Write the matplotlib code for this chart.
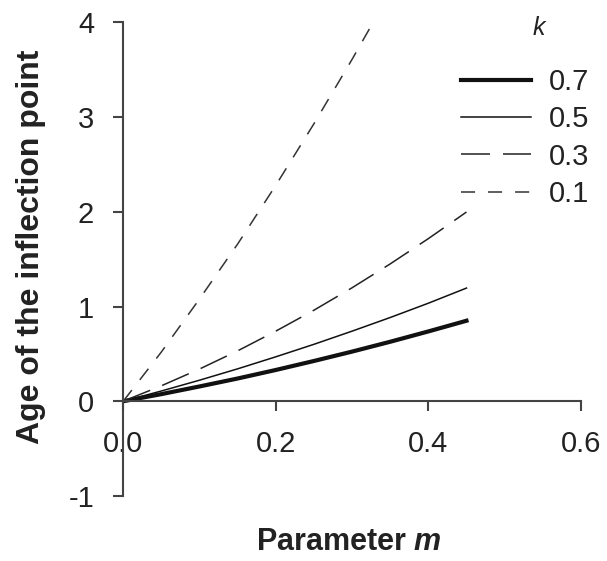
import matplotlib
matplotlib.use("Agg")
import matplotlib.pyplot as plt

plt.rcParams['font.family'] = ['Liberation Sans', 'DejaVu Sans']
plt.rcParams['axes.unicode_minus'] = False
plt.rcParams['mathtext.fontset'] = 'custom'
plt.rcParams['mathtext.it'] = 'Liberation Sans:italic:bold'
plt.rcParams['mathtext.rm'] = 'Liberation Sans:bold'

# data
m_vals = [0.0, 0.05, 0.10, 0.15, 0.20, 0.25, 0.30, 0.35, 0.40, 0.45]
k07 = [0.0, 0.075, 0.156, 0.24, 0.33, 0.425, 0.524, 0.628, 0.737, 0.85]
k05 = [0.0, 0.108, 0.222, 0.342, 0.469, 0.601, 0.74, 0.884, 1.035, 1.195]
k03 = [0.0, 0.163, 0.34, 0.532, 0.74, 0.961, 1.198, 1.45, 1.717, 1.998]
m_k01 = [0.0, 0.05, 0.10, 0.15, 0.20, 0.25, 0.30, 0.329]
k01 = [0.0, 0.52, 1.08, 1.66, 2.28, 2.93, 3.61, 4.02]
legend_labels = ['0.7', '0.5', '0.3', '0.1']
xticks = [0.0, 0.2, 0.4, 0.6]
xticklabels = ['0.0', '0.2', '0.4', '0.6']
yticks = [-1, 0, 1, 2, 3, 4]

TXT = '#222222'
AX = '#444444'

fig = plt.figure(figsize=(6.07, 5.61), dpi=100)
ax = fig.add_axes([0.203, 0.116, 0.754, 0.844])

ax.plot(m_vals, k07, color='#111111', lw=3.0, label=legend_labels[0])
ax.plot(m_vals, k05, color='#111111', lw=1.1, label=legend_labels[1])
ax.plot(m_vals, k03, color='#222222', lw=1.1, dashes=(19, 8.5), label=legend_labels[2])
ax.plot(m_k01, k01, color='#333333', lw=1.1, dashes=(9.2, 8.5), label=legend_labels[3])

ax.set_xlim(0, 0.6)
ax.set_ylim(-1, 4)
ax.spines['top'].set_visible(False)
ax.spines['right'].set_visible(False)
ax.spines['bottom'].set_position(('data', 0))
for s in ['left', 'bottom']:
    ax.spines[s].set_color(AX)
    ax.spines[s].set_linewidth(1.5)
ax.set_xticks(xticks)
ax.set_xticklabels(xticklabels)
ax.set_yticks(yticks)
ax.tick_params(axis='both', direction='out', length=7, width=1.5, color=AX,
               labelsize=21, labelcolor=TXT)
ax.tick_params(axis='x', pad=13.5)
ax.tick_params(axis='y', pad=14)

leg = ax.legend(frameon=False, loc='upper left',
                bbox_to_anchor=(461/607, 1-68/561), bbox_transform=fig.transFigure,
                borderpad=0, borderaxespad=0,
                fontsize=21, handlelength=2.4, handletextpad=0.6, labelspacing=0.32,
                labelcolor=TXT)
fig.text(539/607, 1-28/561, 'k', style='italic', fontsize=18, color=TXT,
         ha='center', va='center')

fig.text(31/607, 1-247/561, 'Age of the inflection point', rotation=90, fontsize=23,
         fontweight='bold', ha='center', va='center', color=TXT)
fig.text(348.5/607, 1-550/561, 'Parameter $m$', fontsize=22, fontweight='bold',
         ha='center', va='baseline', color=TXT)

fig.savefig('out.png', dpi=100)
